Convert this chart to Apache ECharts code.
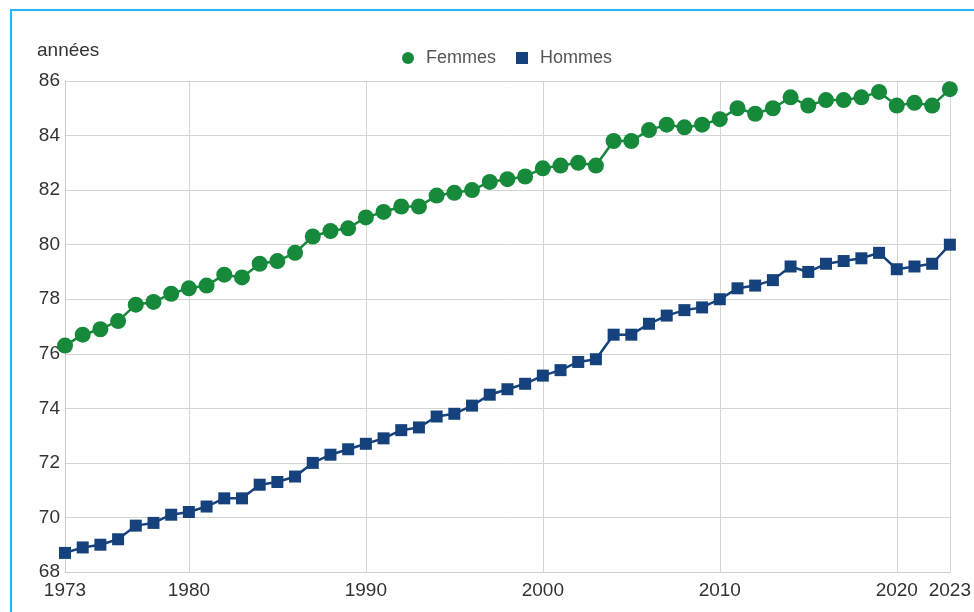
<!DOCTYPE html>
<html>
<head>
<meta charset="utf-8">
<style>
  html, body { margin: 0; padding: 0; background: #fff; }
  #frame { position: absolute; left: 10px; top: 9px; width: 980px; height: 620px;
           border-left: 2px solid #22b8f2; border-top: 2px solid #22b8f2; }
  #main { position: absolute; left: 0; top: 0; width: 974px; height: 612px; }
</style>
<script src="https://cdn.jsdelivr.net/npm/echarts@6/dist/echarts.min.js"></script>
</head>
<body>
<div id="frame"></div>
<div id="main"></div>
<script>
  var years = [];
  for (var y = 1973; y <= 2023; y++) years.push(y);

  var femmes = [76.3, 76.7, 76.9, 77.2, 77.8, 77.9, 78.2, 78.4, 78.5, 78.9,
                78.8, 79.3, 79.4, 79.7, 80.3, 80.5, 80.6, 81.0, 81.2, 81.4,
                81.4, 81.8, 81.9, 82.0, 82.3, 82.4, 82.5, 82.8, 82.9, 83.0,
                82.9, 83.8, 83.8, 84.2, 84.4, 84.3, 84.4, 84.6, 85.0, 84.8,
                85.0, 85.4, 85.1, 85.3, 85.3, 85.4, 85.6, 85.1, 85.2, 85.1,
                85.7];
  var hommes = [68.7, 68.9, 69.0, 69.2, 69.7, 69.8, 70.1, 70.2, 70.4, 70.7,
                70.7, 71.2, 71.3, 71.5, 72.0, 72.3, 72.5, 72.7, 72.9, 73.2,
                73.3, 73.7, 73.8, 74.1, 74.5, 74.7, 74.9, 75.2, 75.4, 75.7,
                75.8, 76.7, 76.7, 77.1, 77.4, 77.6, 77.7, 78.0, 78.4, 78.5,
                78.7, 79.2, 79.0, 79.3, 79.4, 79.5, 79.7, 79.1, 79.2, 79.3,
                80.0];
  var xTicks = [1973, 1980, 1990, 2000, 2010, 2020, 2023];

  function pairs(vals) {
    return years.map(function (yr, i) { return [yr, vals[i]]; });
  }

  var chart = echarts.init(document.getElementById('main'));
  var font = 'Liberation Sans, Arial, Helvetica, sans-serif';
  chart.setOption({
    animation: false,
    textStyle: { fontFamily: font },
    title: {
      text: 'années', left: 32, top: 36,
      textStyle: { fontSize: 19, fontWeight: 'normal', color: '#333', fontFamily: font }
    },
    legend: {
      top: 44, left: 397,
      itemWidth: 12, itemHeight: 12, itemGap: 20,
      textStyle: { fontSize: 18, color: '#555', fontFamily: font, padding: [0, 0, 0, 7] },
      data: [
        { name: 'Femmes', icon: 'circle' },
        { name: 'Hommes', icon: 'rect' }
      ]
    },
    grid: { left: 65, right: 22, top: 81, bottom: 40, containLabel: false },
    xAxis: {
      type: 'value', min: 1973, max: 2023,
      axisLine: { lineStyle: { color: '#cccccc' } },
      axisTick: { show: false, customValues: xTicks },
      axisLabel: { customValues: xTicks, fontSize: 19, color: '#333', margin: 9, fontFamily: font,
                   formatter: function (v) { return String(v); } },
      splitLine: { show: true, lineStyle: { color: '#d4d4d4', width: 1 } }
    },
    yAxis: {
      type: 'value', min: 68, max: 86, interval: 2,
      axisLine: { show: true, lineStyle: { color: '#cccccc' } },
      axisTick: { show: false },
      axisLabel: { fontSize: 19, color: '#333', margin: 5, fontFamily: font },
      splitLine: { lineStyle: { color: '#d4d4d4', width: 1 } }
    },
    series: [
      {
        name: 'Femmes', type: 'line', data: pairs(femmes),
        symbol: 'circle', symbolSize: 16,
        itemStyle: { color: '#16893a' },
        lineStyle: { color: '#16893a', width: 2.5 }
      },
      {
        name: 'Hommes', type: 'line', data: pairs(hommes),
        symbol: 'rect', symbolSize: 12,
        itemStyle: { color: '#15427d' },
        lineStyle: { color: '#15427d', width: 2.5 }
      }
    ]
  });
</script>
</body>
</html>
